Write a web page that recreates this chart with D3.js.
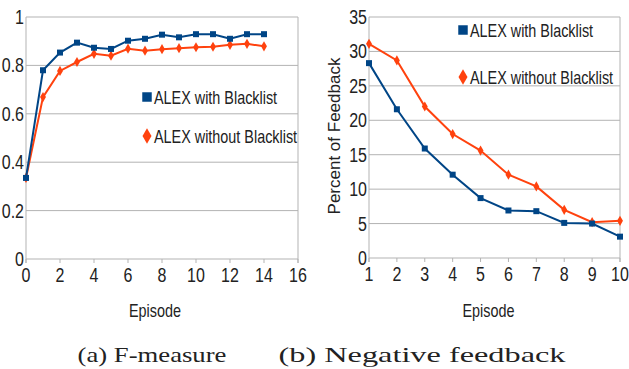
<!DOCTYPE html>
<html>
<head>
<meta charset="utf-8">
<script src="https://cdn.jsdelivr.net/npm/d3@7"></script>
<style>
  body { margin: 0; background: #fff; }
  svg text { font-family: "Liberation Sans", Arial, sans-serif; fill: #222; }
</style>
</head>
<body>
<div id="chart"></div>
<script>
// F-measure per episode
var fEpisodes = [0, 1, 2, 3, 4, 5, 6, 7, 8, 9, 10, 11, 12, 13, 14];
var fWithBlacklist = [0.335, 0.78, 0.853, 0.894, 0.873, 0.868, 0.902, 0.91, 0.927, 0.916, 0.929, 0.929, 0.91, 0.929, 0.929];
var fWithoutBlacklist = [0.335, 0.669, 0.777, 0.814, 0.848, 0.84, 0.869, 0.861, 0.867, 0.871, 0.875, 0.877, 0.885, 0.889, 0.879];
var fXTicks = [0, 2, 4, 6, 8, 10, 12, 14, 16];
var fYTicks = [0, 0.2, 0.4, 0.6, 0.8, 1];

// negative feedback percent per episode
var nEpisodes = [1, 2, 3, 4, 5, 6, 7, 8, 9, 10];
var nWithBlacklist = [28.3, 21.6, 15.9, 12.1, 8.7, 6.9, 6.8, 5.1, 5.0, 3.1];
var nWithoutBlacklist = [31.1, 28.7, 22.0, 18.0, 15.6, 12.1, 10.4, 7.0, 5.2, 5.4];
var nXTicks = [1, 2, 3, 4, 5, 6, 7, 8, 9, 10];
var nYTicks = [0, 5, 10, 15, 20, 25, 30, 35];

var seriesNames = ['ALEX with Blacklist', 'ALEX without Blacklist'];
var captions = ['(a) F-measure', '(b) Negative feedback'];

var BLUE = '#004586', ORANGE = '#ff420e', GRID = '#b3b3b3';
var NARROW = 0.8;  // no narrow font installed, squeeze horizontally

var svg = d3.select('#chart').append('svg')
    .attr('width', 629).attr('height', 369);

function narrowText(g, x, y, txt, size, anchor) {
    return g.append('text')
        .attr('transform', 'translate(' + x + ',' + y + ') scale(' + NARROW + ',1)')
        .attr('text-anchor', anchor || 'start')
        .style('font-size', size + 'px')
        .text(txt);
}

function drawPanel(opts) {
    var x = d3.scaleLinear().domain(opts.xDomain).range([opts.left, opts.right]);
    var y = d3.scaleLinear().domain(opts.yDomain).range([opts.bottom, opts.top]);
    var g = svg.append('g');

    // horizontal grid
    g.selectAll('.grid').data(opts.yTicks).enter().append('line')
        .attr('x1', opts.left).attr('x2', opts.right)
        .attr('y1', function (d) { return y(d); }).attr('y2', function (d) { return y(d); })
        .attr('stroke', GRID).attr('stroke-width', 1);

    // left and right frame
    [opts.left, opts.right].forEach(function (px) {
        g.append('line').attr('x1', px).attr('x2', px)
            .attr('y1', opts.top).attr('y2', opts.bottom + 4)
            .attr('stroke', GRID).attr('stroke-width', 1);
    });

    // x ticks
    g.selectAll('.xt').data(opts.xTicks).enter().append('line')
        .attr('x1', function (d) { return x(d); }).attr('x2', function (d) { return x(d); })
        .attr('y1', opts.bottom).attr('y2', opts.bottom + 4)
        .attr('stroke', GRID);
    opts.xTicks.forEach(function (d) {
        narrowText(g, x(d), opts.bottom + 23, d, 20, 'middle');
    });

    // y labels
    opts.yTicks.forEach(function (d) {
        narrowText(g, opts.left - 2, y(d) + 7, d, 20, 'end');
    });

    narrowText(g, (opts.left + opts.right) / 2 + opts.xLabelShift, 317, 'Episode', 18, 'middle');

    var line = d3.line()
        .x(function (d) { return x(d[0]); })
        .y(function (d) { return y(d[1]); });

    var series = [
        { vals: opts.s1, color: BLUE, shape: d3.symbolSquare, size: 36 },
        { vals: opts.s2, color: ORANGE, shape: d3.symbolDiamond, size: 30 }
    ];
    // draw orange first so blue sits on top
    series.slice().reverse().forEach(function (s) {
        var pts = opts.xs.map(function (v, i) { return [v, s.vals[i]]; });
        g.append('path').datum(pts)
            .attr('d', line)
            .attr('fill', 'none')
            .attr('stroke', s.color)
            .attr('stroke-width', 2);
        g.selectAll(null).data(pts).enter().append('path')
            .attr('transform', function (d) { return 'translate(' + x(d[0]) + ',' + y(d[1]) + ')'; })
            .attr('d', d3.symbol().type(s.shape).size(s.size))
            .attr('fill', s.color);
    });

    // legend
    series.forEach(function (s, i) {
        var ly = opts.legendY + i * opts.legendGap;
        g.append('path')
            .attr('transform', 'translate(' + opts.legendX + ',' + ly + ')')
            .attr('d', d3.symbol().type(s.shape).size(s.shape === d3.symbolSquare ? 90 : 70))
            .attr('fill', s.color);
        narrowText(g, opts.legendX + 7, ly + 7, seriesNames[i], 18);
    });

    // caption, stretched to the width of the LaTeX original
    var cap = svg.append('text')
        .attr('text-anchor', 'middle')
        .style('font-family', '"Liberation Serif", "DejaVu Serif", serif')
        .style('font-size', '21px')
        .text(opts.caption);
    var sx = opts.captionW / cap.node().getComputedTextLength();
    cap.attr('transform', 'translate(' + opts.captionX + ',362) scale(' + sx + ',1)');
}

drawPanel({
    xs: fEpisodes, s1: fWithBlacklist, s2: fWithoutBlacklist,
    xDomain: [0, 16], yDomain: [0, 1], xTicks: fXTicks, yTicks: fYTicks,
    left: 26, right: 298, top: 17, bottom: 259,
    legendX: 147, legendY: 97, legendGap: 39,
    xLabelShift: -7, caption: captions[0], captionX: 152, captionW: 149
});

drawPanel({
    xs: nEpisodes, s1: nWithBlacklist, s2: nWithoutBlacklist,
    xDomain: [1, 10], yDomain: [0, 35], xTicks: nXTicks, yTicks: nYTicks,
    left: 369, right: 620, top: 17, bottom: 258,
    legendX: 463, legendY: 30, legendGap: 47,
    xLabelShift: -6, caption: captions[1], captionX: 422, captionW: 287
});

svg.append('text')
    .attr('transform', 'translate(340,136) rotate(-90)')
    .attr('text-anchor', 'middle')
    .style('font-size', '17px')
    .text('Percent of Feedback');
</script>
</body>
</html>
